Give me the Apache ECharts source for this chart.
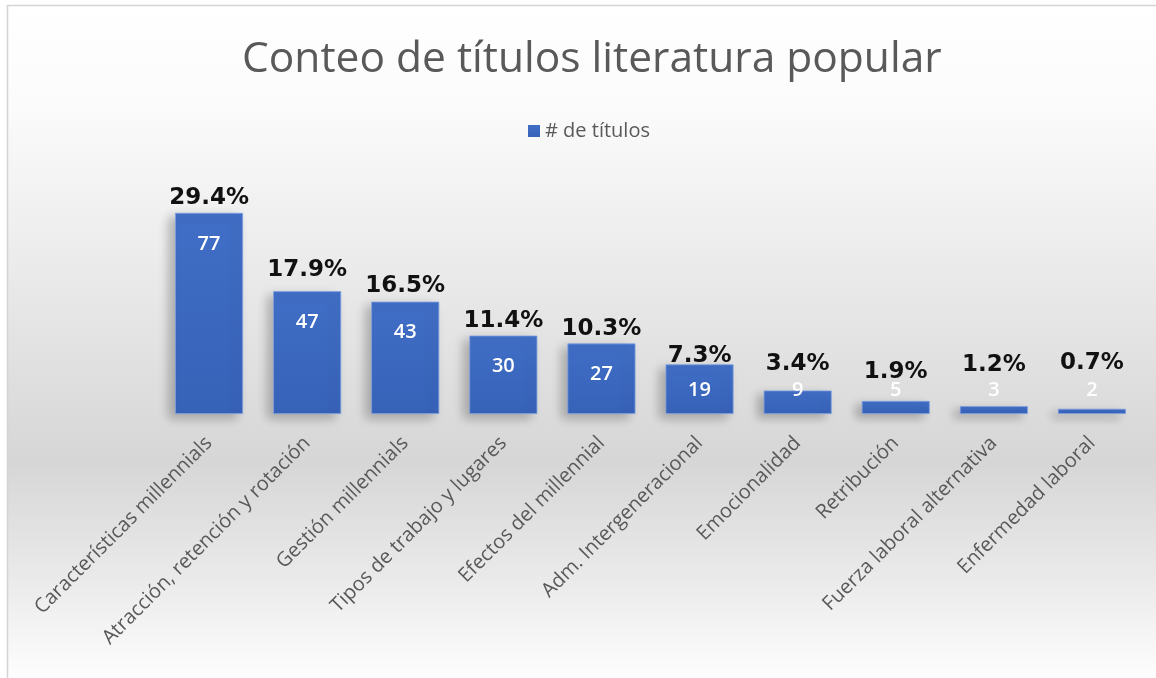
<!DOCTYPE html>
<html>
<head>
<meta charset="utf-8">
<script src="https://cdn.jsdelivr.net/npm/echarts@6/dist/echarts.min.js"></script>
<style>
  html, body { margin: 0; padding: 0; background: #ffffff; }
  #chart { width: 1156px; height: 678px; }
</style>
</head>
<body>
<div id="chart"></div>
<script>
// ---- data ----
const categories = [
  'Características millennials',
  'Atracción, retención y rotación',
  'Gestión millennials',
  'Tipos de trabajo y lugares',
  'Efectos del millennial',
  'Adm. Intergeneracional',
  'Emocionalidad',
  'Retribución',
  'Fuerza laboral alternativa',
  'Enfermedad laboral'
];
const counts = [77, 47, 43, 30, 27, 19, 9, 5, 3, 2];
const percentLabels = ['29.4%', '17.9%', '16.5%', '11.4%', '10.3%', '7.3%', '3.4%', '1.9%', '1.2%', '0.7%'];
const seriesName = '# de títulos';
const titleText = 'Conteo de títulos literatura popular';

// ---- styles (label placement tweaks, not data) ----
const pctLift = [3, 10, 4, 3, 3, -3, 15, 17, 30, 34];
const smallInsideThreshold = 20;

const chart = echarts.init(document.getElementById('chart'), null, { renderer: 'canvas' });

const barColor = new echarts.graphic.LinearGradient(0, 0, 0, 1, [
  { offset: 0, color: '#416ec6' },
  { offset: 1, color: '#3662b8' }
]);

const countData = counts.map(function (v) {
  const small = v < smallInsideThreshold;
  return {
    value: v,
    label: small
      ? { position: 'insideBottom', distance: 14 }
      : { position: 'insideTop', distance: 21 }
  };
});

const pctData = counts.map(function (v, i) {
  return {
    value: v,
    label: { distance: pctLift[i] }
  };
});

const option = {
  animation: false,
  graphic: [
    {
      type: 'rect',
      silent: true,
      z: -100,
      shape: { x: 7.5, y: 5.5, width: 1160, height: 680 },
      style: {
        fill: new echarts.graphic.LinearGradient(0, 0, 0, 1, [
          { offset: 0, color: '#ffffff' },
          { offset: 0.15, color: '#fbfbfb' },
          { offset: 0.45, color: '#e6e6e6' },
          { offset: 0.67, color: '#d6d6d6' },
          { offset: 0.85, color: '#ebebeb' },
          { offset: 1, color: '#ffffff' }
        ]),
        stroke: '#d4d4d4',
        lineWidth: 1.5
      }
    }
  ],
  title: {
    text: titleText,
    left: 237,
    top: 33,
    textStyle: {
      fontFamily: 'Open Sans',
      fontSize: 42.5,
      fontWeight: 'normal',
      color: '#595959'
    }
  },
  legend: {
    data: [seriesName],
    top: 116,
    left: 523,
    icon: 'rect',
    itemWidth: 12,
    itemHeight: 12,
    itemGap: 6,
    itemStyle: { borderWidth: 0, shadowBlur: 0, shadowOffsetX: 0, shadowOffsetY: 0 },
    textStyle: {
      fontFamily: 'Open Sans',
      fontSize: 20,
      color: '#595959'
    }
  },
  grid: {
    left: 160,
    right: 15,
    top: 205,
    bottom: 264,
    containLabel: false,
    outerBoundsMode: 'none'
  },
  xAxis: {
    type: 'category',
    data: categories,
    axisLine: { show: false },
    axisTick: { show: false },
    axisLabel: {
      interval: 0,
      rotate: 45,
      margin: 26,
      fontFamily: 'Open Sans',
      fontSize: 20,
      color: '#595959'
    }
  },
  yAxis: {
    type: 'value',
    min: 0,
    max: 80,
    show: false,
    splitLine: { show: false }
  },
  series: [
    {
      name: seriesName,
      type: 'bar',
      data: countData,
      barWidth: 68,
      barGap: '-100%',
      itemStyle: {
        color: barColor,
        borderColor: '#7fa0e0',
        borderWidth: 0.8,
        shadowColor: 'rgba(0,0,0,0.25)',
        shadowBlur: 10,
        shadowOffsetX: -6,
        shadowOffsetY: 4
      },
      label: {
        show: true,
        color: '#ffffff',
        fontFamily: 'Open Sans',
        fontWeight: 600,
        fontSize: 20
      },
      z: 2
    },
    {
      name: 'pct',
      type: 'bar',
      data: pctData,
      barWidth: 68,
      barGap: '-100%',
      silent: true,
      itemStyle: { color: 'rgba(0,0,0,0)' },
      label: {
        show: true,
        position: 'top',
        formatter: function (p) { return percentLabels[p.dataIndex]; },
        color: '#111111',
        fontFamily: 'DejaVu Sans',
        fontWeight: 'bold',
        fontSize: 23
      },
      z: 3
    }
  ]
};

chart.setOption(option);
</script>
</body>
</html>
